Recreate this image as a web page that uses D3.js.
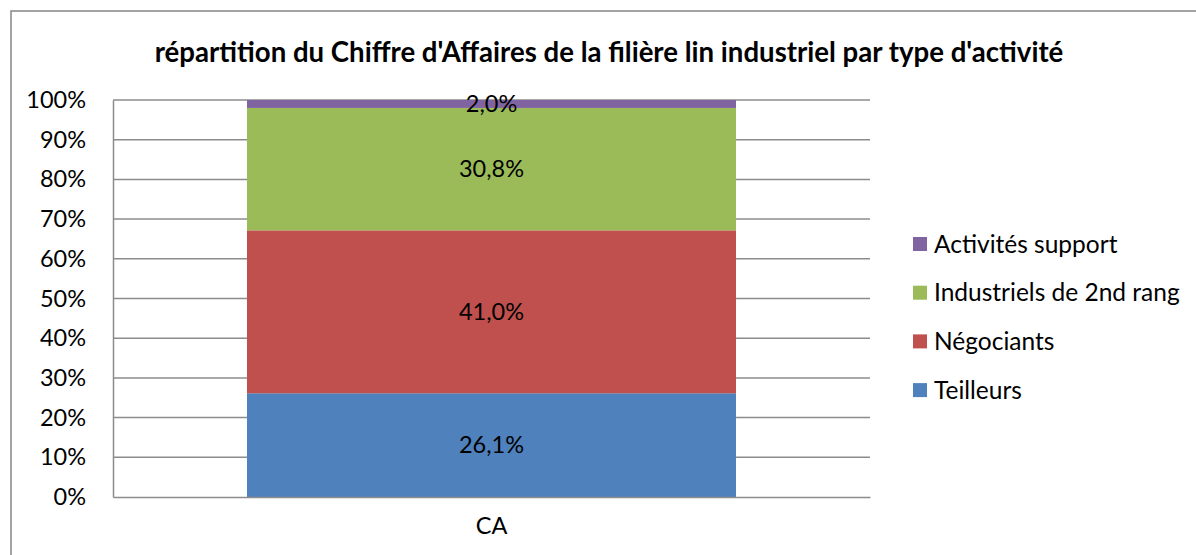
<!DOCTYPE html>
<html>
<head>
<meta charset="utf-8">
<script src="https://cdn.jsdelivr.net/npm/d3@7"></script>
<style>
  body { margin: 0; background: #fff; }
  text { font-family: Lato, "Open Sans", sans-serif; fill: #000; }
</style>
</head>
<body>
<div id="chart"></div>
<script>
var categories = ["CA"];
var seriesNames = ["Teilleurs", "Négociants", "Industriels de 2nd rang", "Activités support"];
var seriesValues = [26.1, 41.0, 30.8, 2.0];
var seriesColors = ["#4F81BD", "#C0504D", "#9BBB59", "#8064A2"];
var yTicks = [0, 0.1, 0.2, 0.3, 0.4, 0.5, 0.6, 0.7, 0.8, 0.9, 1];
var title = "répartition du Chiffre d'Affaires de la filière lin industriel par type d'activité";

var W = 1196, H = 555;
var margin = { top: 100, right: 326, bottom: 58, left: 113 };
var width = W - margin.left - margin.right;
var height = H - margin.top - margin.bottom;
var fs = "23.5px";

var root = d3.select("#chart").append("svg")
  .attr("width", W).attr("height", H);

// outer chart frame
root.append("rect")
  .attr("x", 11).attr("y", 11)
  .attr("width", W).attr("height", H)
  .attr("fill", "none").attr("stroke", "#868686").attr("stroke-width", 1.5);

root.append("text")
  .attr("x", 609).attr("y", 62)
  .attr("text-anchor", "middle")
  .style("font-size", "27.6px").style("font-weight", "bold")
  .text(title);

var svg = root.append("g")
  .attr("transform", "translate(" + margin.left + "," + margin.top + ")");

var total = d3.sum(seriesValues);
var x = d3.scaleBand().domain(categories).range([0, width]);
var y = d3.scaleLinear().domain([0, 1]).range([height, 0]);

// gridlines
svg.append("g").selectAll("line").data(yTicks.slice(1)).enter().append("line")
  .attr("x1", 0).attr("x2", width)
  .attr("y1", function (d) { return y(d); })
  .attr("y2", function (d) { return y(d); })
  .attr("stroke", "#8c8c8c").attr("stroke-width", 1.5);

// stacked segments
var stackData = [];
var acc = 0;
seriesValues.forEach(function (v, i) {
  stackData.push({ name: seriesNames[i], y0: acc / total, y1: (acc + v) / total, value: v, color: seriesColors[i] });
  acc += v;
});

var bw = x.bandwidth() * 0.646;
var bx = x("CA") + (x.bandwidth() - bw) / 2;

svg.append("g").selectAll("rect").data(stackData).enter().append("rect")
  .attr("x", bx)
  .attr("width", bw)
  .attr("y", function (d) { return y(d.y1); })
  .attr("height", function (d) { return y(d.y0) - y(d.y1); })
  .attr("fill", function (d) { return d.color; });

svg.append("g").selectAll("text").data(stackData).enter().append("text")
  .attr("x", bx + bw / 2)
  .attr("y", function (d) { return (y(d.y0) + y(d.y1)) / 2; })
  .attr("dy", "0.35em")
  .attr("text-anchor", "middle")
  .style("font-size", fs)
  .text(function (d) { return d3.format(".1f")(d.value).replace(".", ",") + "%"; });

// axes
var yAxis = d3.axisLeft(y).tickValues(yTicks).tickSize(0).tickPadding(27)
  .tickFormat(function (d) { return Math.round(d * 100) + "%"; });
var gy = svg.append("g").call(yAxis);
gy.select(".domain").attr("stroke", "#8c8c8c").attr("stroke-width", 1.5);
gy.selectAll("text").style("font-size", fs).attr("fill", "#000");

var xAxis = d3.axisBottom(x).tickSize(0).tickPadding(20);
var gx = svg.append("g").attr("transform", "translate(0," + height + ")").call(xAxis);
gx.select(".domain").attr("stroke", "#8c8c8c").attr("stroke-width", 1.5);
gx.selectAll("text").style("font-size", fs).attr("fill", "#000");

// legend (reverse order, top = last series)
var legend = root.append("g").attr("transform", "translate(913,244)");
var legendItems = stackData.slice().reverse();
var li = legend.selectAll("g").data(legendItems).enter().append("g")
  .attr("transform", function (d, i) { return "translate(0," + i * 48.7 + ")"; });
li.append("rect").attr("x", 0).attr("y", -7).attr("width", 14).attr("height", 14)
  .attr("fill", function (d) { return d.color; });
li.append("text").attr("x", 21).attr("y", 0).attr("dy", "0.35em")
  .style("font-size", "24.5px")
  .text(function (d) { return d.name; });
</script>
</body>
</html>
